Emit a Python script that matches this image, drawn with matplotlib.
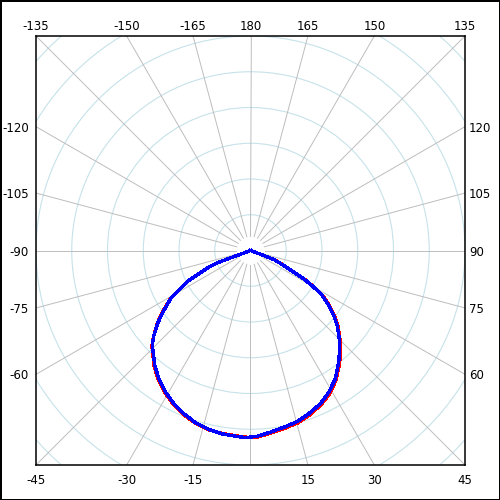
import numpy as np
import matplotlib.pyplot as plt
from matplotlib.patches import Circle

# angles (deg), 0 = straight down, positive to the right
angles = [-90, -70, -69.7, -68.2, -65.7, -64.1, -60.8, -58.9, -55.3, -52.2, -48.7, -46.0, -44.8,
          -39.8, -35.6, -31.0, -26.6, -22.2, -17.7, -13.1, -8.8, -4.6, -1.5, 0, 2.1, 6.3, 10.7,
          15.3, 19.6, 24.5, 28.9, 33.5, 38.3, 42.3, 43.7, 46.1, 49.1, 52.0, 54.9, 57.9, 59.9,
          62.0, 63.4, 65.8, 68.9, 69.4, 70, 90]
blue = [0, 0, 94, 126, 159, 192, 230, 261, 295, 327, 360, 382, 388,
        418, 441, 462, 479, 493, 506, 514, 519, 521, 524, 522, 520, 511, 503,
        496, 485, 471, 453, 430, 398, 371, 361, 343, 321, 296, 268, 237, 205,
        169, 135, 102, 70, 40, 0, 0]
red = [0, 0, 95, 128, 161, 194, 233, 262, 297, 329, 360, 383, 390,
       421, 444, 464, 482, 496, 507, 515, 518, 520, 522, 524, 522, 514, 507,
       500, 489, 475, 458, 434, 402, 375, 364, 346, 324, 299, 271, 239, 207,
       171, 137, 104, 71, 40, 0, 0]

ring_vals = [100, 200, 300, 400, 500, 600, 700, 800]
spoke_angles = list(range(-165, 181, 15))
LIM = 600


def xy(theta, r):
    t = np.radians(np.asarray(theta, dtype=float))
    r = np.asarray(r, dtype=float)
    return r * np.sin(t), -r * np.cos(t)


fig = plt.figure(figsize=(5, 5), dpi=100)
fig.patch.set_edgecolor('black')
fig.patch.set_linewidth(2)
ax = fig.add_axes([0.072, 0.07, 0.858, 0.858])
ax.set_xlim(-LIM, LIM)
ax.set_ylim(-LIM, LIM)
ax.set_aspect('equal')
ax.set_xticks([])
ax.set_yticks([])
for s in ax.spines.values():
    s.set_linewidth(1.1)
    s.set_zorder(10)

# rings
for rv in ring_vals:
    ax.add_patch(Circle((0, 0), rv, fill=False, ec='#c6e2ea', lw=0.8))

# spokes + labels on the box edge
for a in spoke_angles:
    x0, y0 = xy(a, 40)
    x1, y1 = xy(a, 1000)
    ax.plot([x0, x1], [y0, y1], color='#bdbdbd', lw=0.7)
    if a == 0:
        continue
    sx, sy = np.sin(np.radians(a)), -np.cos(np.radians(a))
    lab = str(a)
    if abs(sy) >= abs(sx) - 1e-9:
        px = sx * LIM / abs(sy)
        if sy > 0:
            ax.annotate(lab, (px, LIM), xytext=(0, 4.5), textcoords='offset points',
                        ha='center', va='baseline', fontsize=8.5, annotation_clip=False)
        else:
            ax.annotate(lab, (px, -LIM), xytext=(0, -6.5), textcoords='offset points',
                        ha='center', va='top', fontsize=8.5, annotation_clip=False)
    else:
        py = sy * LIM / abs(sx)
        if sx < 0:
            ax.annotate(lab, (-LIM, py), xytext=(-5, 0), textcoords='offset points',
                        ha='right', va='center_baseline', fontsize=8.5, annotation_clip=False)
        else:
            ax.annotate(lab, (LIM, py), xytext=(3, 0), textcoords='offset points',
                        ha='left', va='center_baseline', fontsize=8.5, annotation_clip=False)

rx, ry = xy(angles, red)
bx, by = xy(angles, blue)
ax.plot(rx, ry, color='red', lw=1.7, antialiased=False, zorder=5)
ax.plot(bx, by, color='blue', lw=1.7, antialiased=False, zorder=6)

fig.savefig('out.png', dpi=100)
